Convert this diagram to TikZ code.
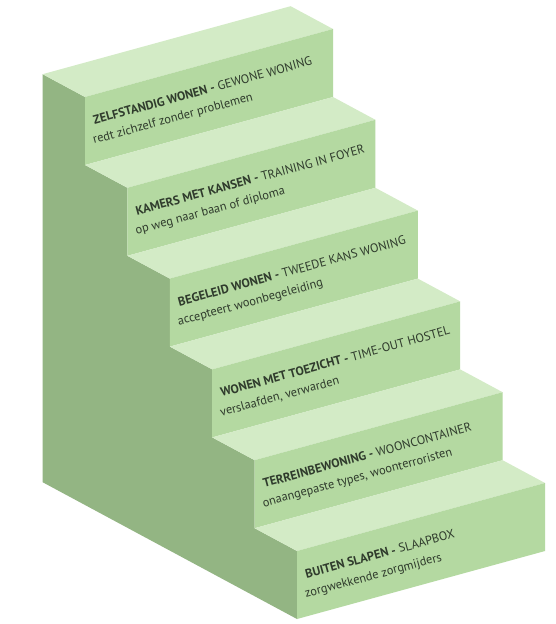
\documentclass[tikz,border=0pt]{standalone}
\usepackage{fontspec}
\setmainfont{PT Sans}
\definecolor{sidec}{HTML}{93B583}
\definecolor{frontc}{HTML}{B4D9A1}
\definecolor{topc}{HTML}{D3EBC6}
\definecolor{txtc}{HTML}{2F3B2C}
\begin{document}
\begin{tikzpicture}[x=1pt,y=-1pt,
  lbl/.style={anchor=base west, rotate=15.3, inner sep=0pt, text=txtc,
    font=\fontsize{12.4}{14}\selectfont}]
\useasboundingbox[fill=white] (0,0) rectangle (555,624);
% left side of the staircase
\fill[sidec] (42.6,74.2) -- (85,97) -- (85,165) -- (127.4,187.8) -- (127.4,255.8)
  -- (169.8,278.6) -- (169.8,346.6) -- (212.2,369.4) -- (212.2,437.4)
  -- (254.6,460.2) -- (254.6,528.2) -- (297,551) -- (297,619) -- (42.6,482.2) -- cycle;
% steps: top faces and front faces
\foreach \k in {0,...,5}{
  \pgfmathsetmacro\px{85+42.4*\k}
  \pgfmathsetmacro\py{97+90.8*\k}
  \fill[topc] (\px-42.4,\py-22.8) -- ++(248,-68) -- ++(42.4,22.8) -- ++(-248,68) -- cycle;
  \fill[frontc] (\px,\py) -- ++(248,-68) -- ++(0,68) -- ++(-248,68) -- cycle;
}
% labels
\node[lbl] (s1a) at (94.5,124.5) {\textbf{ZELFSTANDIG WONEN -} GEWONE WONING};
\node[lbl] (s1b) at (94,144) {redt zichzelf zonder problemen};
\node[lbl] (s2a) at (136.9,215.3) {\textbf{KAMERS MET KANSEN -} TRAINING IN FOYER};
\node[lbl] (s2b) at (136.4,234.8) {op weg naar baan of diploma};
\node[lbl] (s3a) at (179.3,306.1) {\textbf{BEGELEID WONEN -} TWEEDE KANS WONING};
\node[lbl] (s3b) at (178.8,325.6) {accepteert woonbegeleiding};
\node[lbl] (s4a) at (221.7,396.9) {\textbf{WONEN MET TOEZICHT -} TIME-OUT HOSTEL};
\node[lbl] (s4b) at (221.2,416.4) {verslaafden, verwarden};
\node[lbl] (s5a) at (264.1,487.7) {\textbf{TERREINBEWONING -} WOONCONTAINER};
\node[lbl] (s5b) at (263.6,507.2) {onaangepaste types, woonterroristen};
\node[lbl] (s6a) at (306.5,578.5) {\textbf{BUITEN SLAPEN -} SLAAPBOX};
\node[lbl] (s6b) at (306,598) {zorgwekkende zorgmijders};
\end{tikzpicture}
\end{document}
